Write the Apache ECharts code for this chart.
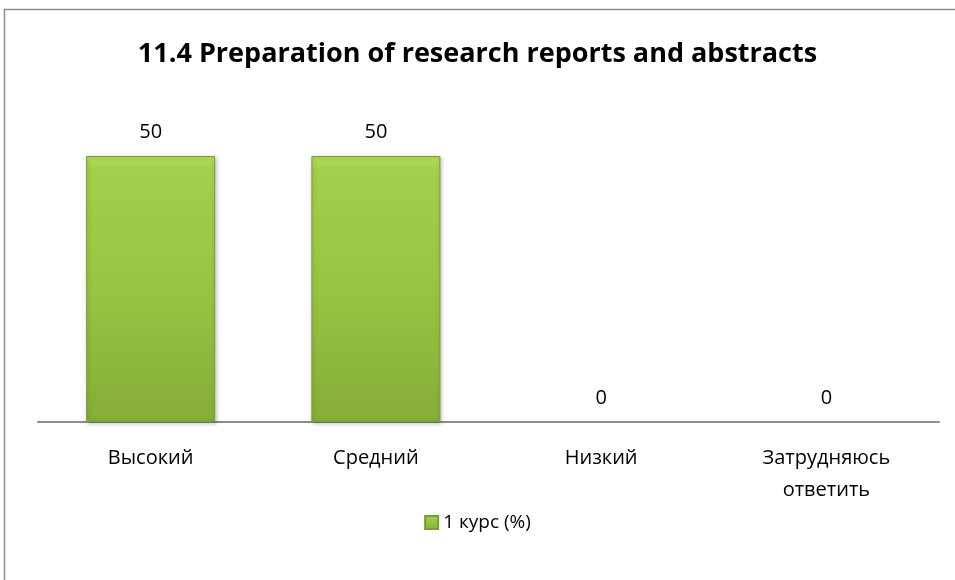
<!DOCTYPE html>
<html><head><meta charset="utf-8">
<script src="https://cdn.jsdelivr.net/npm/echarts@6/dist/echarts.min.js"></script>
<style>html,body{margin:0;padding:0;background:#fff}#c{width:955px;height:580px}</style>
</head><body><div id="c"></div>
<script>
const categories = ['Высокий', 'Средний', 'Низкий', 'Затрудняюсь\nответить'];
const seriesName = '1 курс (%)';
const values = [50, 50, 0, 0];
const titleText = '11.4 Preparation of research reports and abstracts';

const chart = echarts.init(document.getElementById('c'));
const fontFam = '"Open Sans", "Noto Sans", sans-serif';
chart.setOption({
  animation: false,
  backgroundColor: '#fff',
  graphic: [{
    type: 'rect', shape: {x: 4.5, y: 9.5, width: 960, height: 600},
    style: {fill: 'none', stroke: '#8c8c8c', lineWidth: 1.5}, z: -1
  }],
  title: {
    text: titleText, left: 'center', top: 36,
    textStyle: {fontFamily: fontFam, fontWeight: 'bold', fontSize: 27, color: '#000'}
  },
  legend: {
    data: [seriesName], top: 508, left: 'center',
    itemWidth: 13, itemHeight: 13, icon: 'rect', itemGap: 3,
    textStyle: {fontFamily: fontFam, fontSize: 19, color: '#000'}
  },
  grid: {left: 38, right: 16, top: 156, bottom: 158, containLabel: false},
  xAxis: {
    type: 'category', data: categories,
    axisLine: {lineStyle: {color: '#8c8c8c', width: 2}},
    axisTick: {show: false},
    axisLabel: {fontFamily: fontFam, fontSize: 20, color: '#000', margin: 20, lineHeight: 32}
  },
  yAxis: {type: 'value', min: 0, max: 50, show: false, splitLine: {show: false}},
  series: [{
    name: seriesName, type: 'bar', barWidth: 129,
    data: values.map(v => v === 0 ? {value: v, itemStyle: {borderWidth: 0, shadowBlur: 0, opacity: 0}} : v),
    itemStyle: {
      color: {type: 'linear', x: 0, y: 0, x2: 0, y2: 1, colorStops: [
        {offset: 0, color: '#b4dc5c'}, {offset: 0.05, color: '#a4cf4d'},
        {offset: 0.5, color: '#98c444'}, {offset: 1, color: '#86ad38'}]},
      borderColor: '#7a9e32', borderWidth: 1,
      shadowColor: 'rgba(0,0,0,0.25)', shadowBlur: 4, shadowOffsetX: 1, shadowOffsetY: 1
    },
    label: {
      show: true, position: 'top', distance: 14,
      fontFamily: fontFam, fontSize: 20, color: '#000', opacity: 1
    }
  }]
});
</script></body></html>
